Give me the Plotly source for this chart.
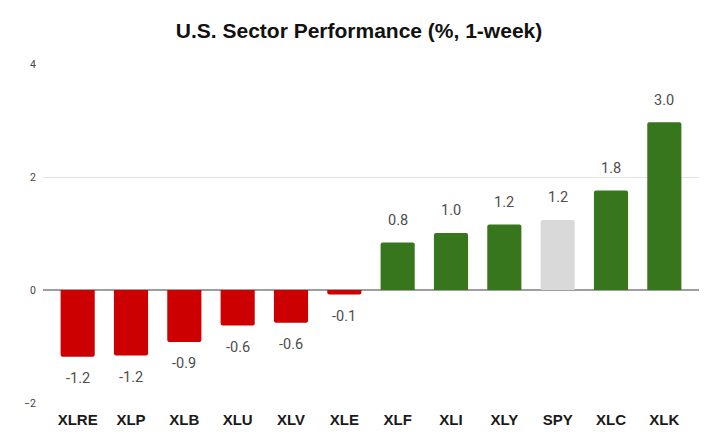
import plotly.graph_objects as go

tickers = ["XLRE", "XLP", "XLB", "XLU", "XLV", "XLE", "XLF", "XLI", "XLY", "SPY", "XLC", "XLK"]
values = [-1.18, -1.16, -0.92, -0.63, -0.58, -0.08, 0.84, 1.01, 1.16, 1.24, 1.76, 2.97]
labels = ["-1.2", "-1.2", "-0.9", "-0.6", "-0.6", "-0.1", "0.8", "1.0", "1.2", "1.2", "1.8", "3.0"]

RED, GREEN, GREY = "#cc0000", "#38761d", "#d9d9d9"
colors = [GREY if t == "SPY" else (GREEN if v >= 0 else RED) for t, v in zip(tickers, values)]

fig = go.Figure(go.Bar(
    x=tickers, y=values, marker=dict(color=colors, line=dict(width=0)),
    width=0.64,
))

for t, v, lab in zip(tickers, values, labels):
    fig.add_annotation(
        x=t, y=v, text=lab, showarrow=False, xanchor="center", yanchor="middle",
        yshift=22 if v >= 0 else -22,
        font=dict(family="Roboto", size=14.5, color="#4d4d4d"),
    )

fig.update_layout(
    width=718, height=446,
    margin=dict(l=43, r=19, t=64, b=43),
    paper_bgcolor="white", plot_bgcolor="white",
    barcornerradius=2,
    showlegend=False,
    title=dict(text="<b>U.S. Sector Performance (%, 1-week)</b>", x=0.5, xanchor="center",
               y=1 - 31 / 446, yanchor="middle", yref="container",
               font=dict(family="Liberation Sans", size=21, color="#111111")),
    xaxis=dict(range=[-0.65, 11.65], showgrid=False, showline=False, ticks="",
               tickfont=dict(family="Liberation Sans", size=15, color="#1a1a1a", weight="bold"),
               ticklabelstandoff=6),
    yaxis=dict(range=[-2, 4], tickvals=[-2, 0, 2, 4], showgrid=True, gridcolor="#e3e3e3",
               gridwidth=1, zeroline=True, zerolinecolor="#9e9e9e", zerolinewidth=1.5,
               showline=False, ticks="",
               tickfont=dict(family="Roboto", size=10.5, color="#444444"), ticklabelstandoff=6),
)

fig.write_html("out.html")
